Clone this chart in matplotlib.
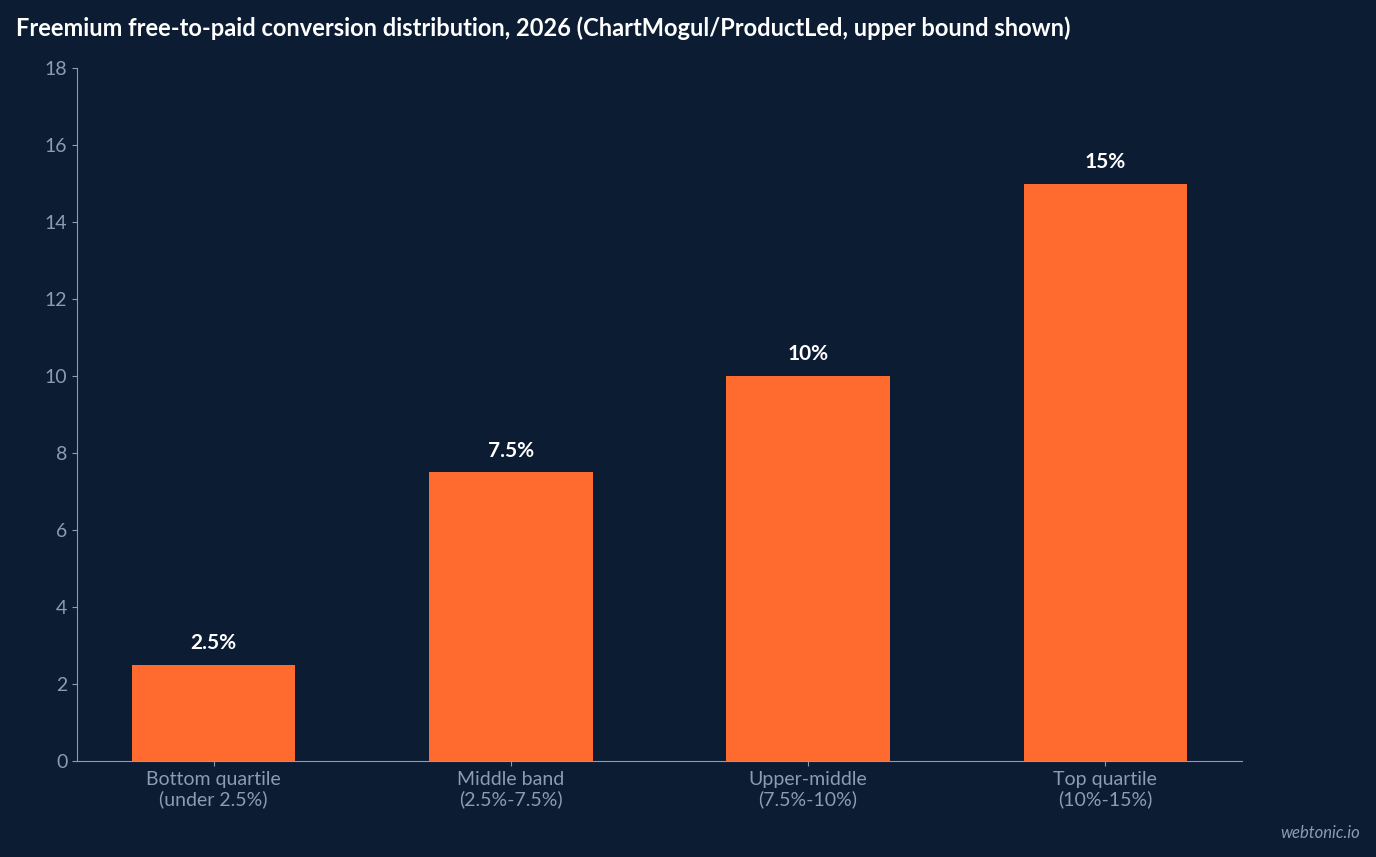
import matplotlib
matplotlib.use("Agg")
import matplotlib.pyplot as plt

categories = ["Bottom quartile\n(under 2.5%)", "Middle band\n(2.5%-7.5%)", "Upper-middle\n(7.5%-10%)", "Top quartile\n(10%-15%)"]
values = [2.5, 7.5, 10, 15]
labels = ["2.5%", "7.5%", "10%", "15%"]

bg = "#0c1c33"
grey = "#8d9bb3"
plt.rcParams['font.family'] = ['Lato', 'DejaVu Sans']
fig = plt.figure(figsize=(13.76, 8.57), dpi=100, facecolor=bg)
ax = fig.add_axes([77/1376, 1-761/857, (1242-77)/1376, (761-68)/857], facecolor=bg)
x = range(len(values))
ax.bar(x, values, width=0.55, color="#ff6b2e")
for i, (v, l) in enumerate(zip(values, labels)):
    ax.text(i, v + 0.3, l, ha="center", va="bottom", color="white", fontsize=15, fontweight="bold")
ax.set_xlim(-0.46, 3.46)
ax.set_ylim(0, 18)
ax.set_yticks(range(0, 19, 2))
ax.set_xticks(list(x))
ax.set_xticklabels(categories)
ax.tick_params(colors=grey, labelsize=14)
for s in ["top", "right"]:
    ax.spines[s].set_visible(False)
for s in ["left", "bottom"]:
    ax.spines[s].set_color(grey)
fig.text(16/1376, 1-28/857, "Freemium free-to-paid conversion distribution, 2026 (ChartMogul/ProductLed, upper bound shown)",
         color="white", fontsize=17, fontweight="bold", va="center", ha="left")
fig.text(1360/1376, 1-833/857, "webtonic.io", color=grey, fontsize=12, style="italic", ha="right", va="center")
fig.savefig("out.png", dpi=100, facecolor=bg)
